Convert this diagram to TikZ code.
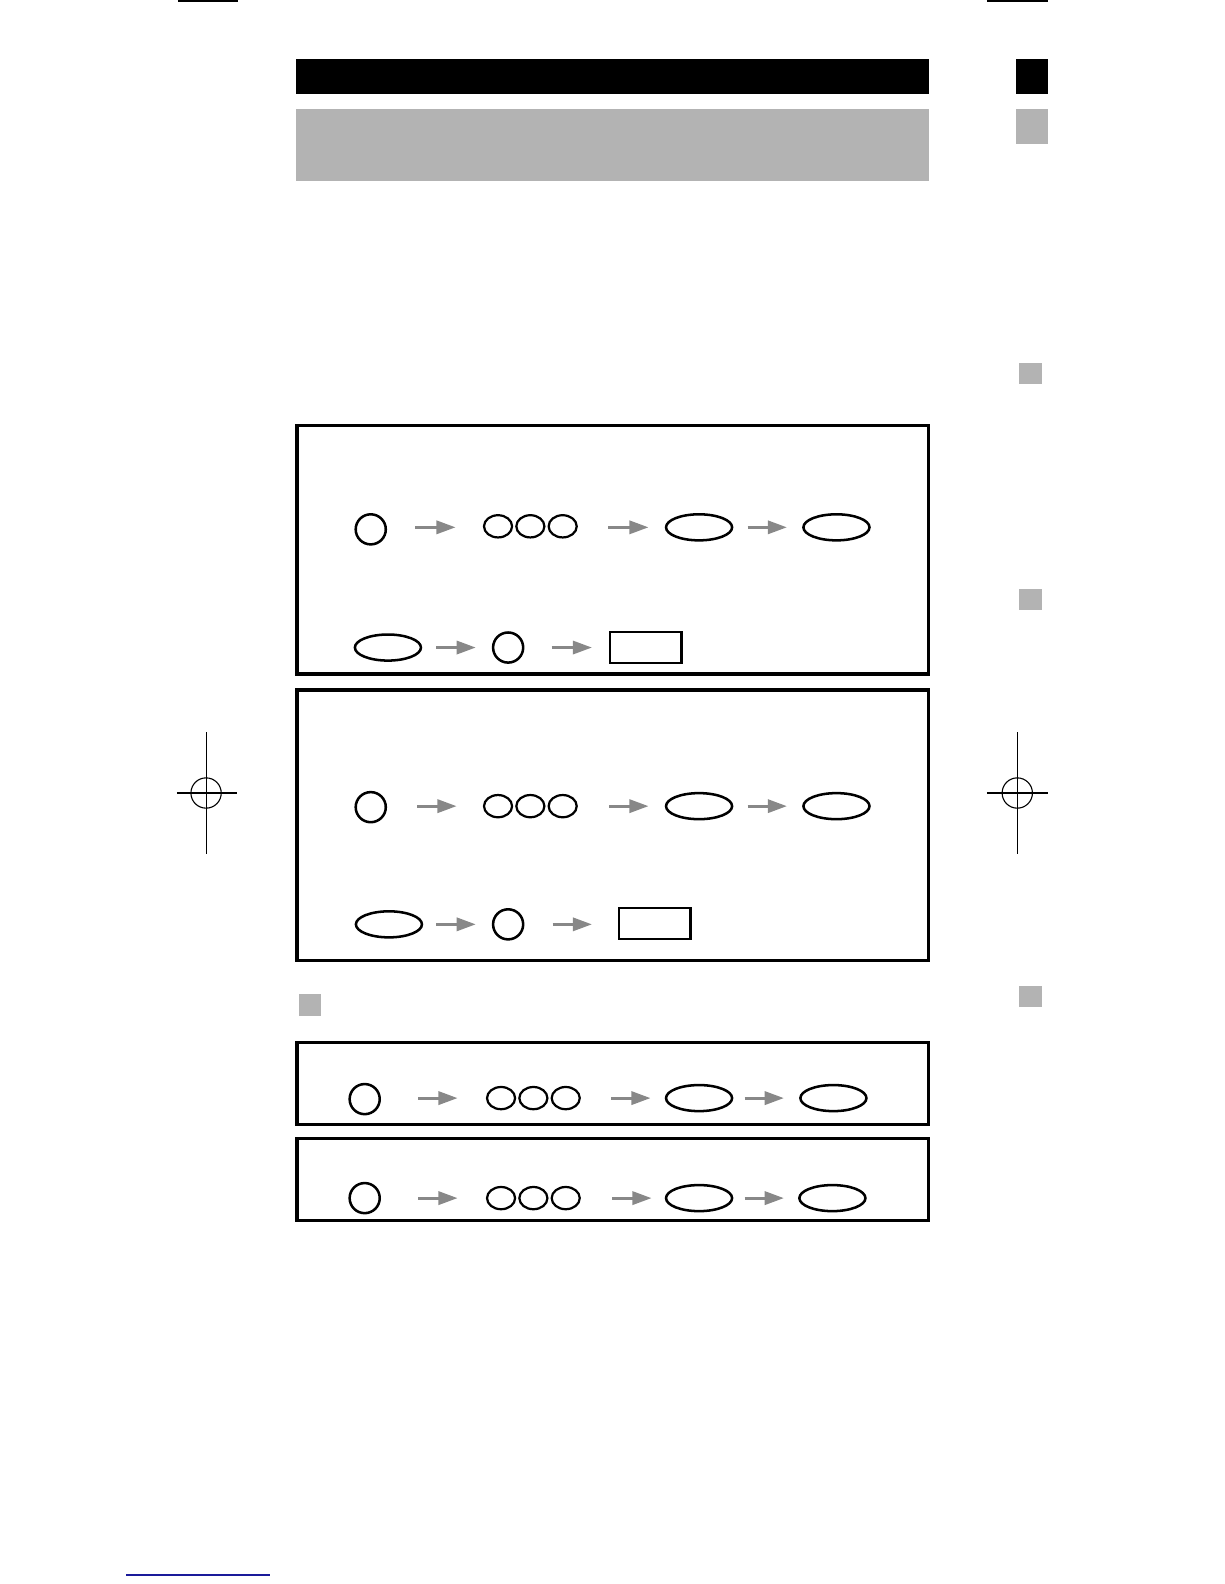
\documentclass[tikz,border=0pt]{standalone}
\usetikzlibrary{arrows.meta,shapes.geometric}
\definecolor{lgray}{HTML}{B3B3B3}
\definecolor{agray}{HTML}{888888}
\definecolor{dblue}{HTML}{1A1A9A}
\tikzset{
  frame/.style={draw=black,line width=1.7pt},
  btn/.style={draw=black,line width=1.25pt,circle,inner sep=0pt,minimum size=14.9pt},
  key/.style={draw=black,line width=1.1pt,ellipse,inner sep=0pt,minimum width=13.9pt,minimum height=11pt},
  oval/.style={draw=black,line width=1.25pt,ellipse,inner sep=0pt,minimum width=32.7pt,minimum height=12.9pt},
  disp/.style={draw=black,line width=1.1pt,rectangle,inner sep=0pt,minimum width=35.5pt,minimum height=15.3pt},
  garrow/.style={draw=agray,line width=1.5pt,-{Triangle[length=9.5pt,width=6.5pt]}},
  crop/.style={draw=black,line width=0.55pt},
  tab/.style={fill=lgray},
}
\begin{document}
\begin{tikzpicture}[x=0.5pt,y=-0.5pt]
\useasboundingbox (0,0) rectangle (1212,1568);
% crop marks top
\draw[crop,line width=1pt] (176,1.3) -- (236,1.3);
\draw[crop,line width=1pt] (977,1.3) -- (1037,1.3);
% header bars
\fill[black] (293,58) rectangle (920,93);
\fill[lgray] (293,108) rectangle (920,179);
\fill[black] (1006,58) rectangle (1037,93);
\fill[lgray] (1006,108) rectangle (1037,143);
% side tabs
\fill[tab] (1009,359) rectangle (1031,380);
\fill[tab] (1009,583) rectangle (1031,604);
\fill[tab] (1009,976) rectangle (1031,997);
\fill[tab] (296,984) rectangle (318,1006);
% crosshairs
\draw[crop] (204,725) -- (204,845);
\draw[crop] (175,785) -- (235,785);
\draw[crop] (204,785) circle[radius=15];
\draw[crop] (1007,725) -- (1007,845);
\draw[crop] (977,785) -- (1037,785);
\draw[crop] (1007,785) circle[radius=15];
% bottom blue line
\draw[dblue,line width=0.8pt] (125,1559) -- (267,1559);
% frames
\draw[frame] (294,421) rectangle (919,667);
\draw[frame] (294,683) rectangle (919,951);
\draw[frame] (294,1032) rectangle (919,1113);
\draw[frame] (294,1127) rectangle (919,1208);

% ---- Box 1 ----
\node[btn] (a1) at (367,524) {};
\coordinate (a1s) at (411,522); \coordinate (a1e) at (451,522);
\node[key] (a2) at (493,521) {};
\node[key] (a3) at (525,521) {};
\node[key] (a4) at (557,521) {};
\coordinate (a2s) at (602,522); \coordinate (a2e) at (642,522);
\node[oval] (a5) at (692,522) {};
\coordinate (a3s) at (740,522); \coordinate (a3e) at (779,522);
\node[oval] (a6) at (828,522) {};
\draw[garrow] (a1s) -- (a1e);
\draw[garrow] (a2s) -- (a2e);
\draw[garrow] (a3s) -- (a3e);
\node[oval] (b1) at (384,641) {};
\coordinate (b1s) at (432,641); \coordinate (b1e) at (471,641);
\node[btn] (b2) at (503,641) {};
\coordinate (b2s) at (546,641); \coordinate (b2e) at (586,641);
\node[disp] (b3) at (639,641) {};
\draw[garrow] (b1s) -- (b1e);
\draw[garrow] (b2s) -- (b2e);

% ---- Box 2 ----
\node[btn] (c1) at (367,799) {};
\coordinate (c1s) at (413,798); \coordinate (c1e) at (452,798);
\node[key] (c2) at (493,798) {};
\node[key] (c3) at (525,798) {};
\node[key] (c4) at (557,798) {};
\coordinate (c2s) at (603,798); \coordinate (c2e) at (642,798);
\node[oval] (c5) at (692,798) {};
\coordinate (c3s) at (740,798); \coordinate (c3e) at (779,798);
\node[oval] (c6) at (828,798) {};
\draw[garrow] (c1s) -- (c1e);
\draw[garrow] (c2s) -- (c2e);
\draw[garrow] (c3s) -- (c3e);
\node[oval] (d1) at (385,915) {};
\coordinate (d1s) at (432,915); \coordinate (d1e) at (471,915);
\node[btn] (d2) at (503,915) {};
\coordinate (d2s) at (547,915); \coordinate (d2e) at (586,915);
\node[disp] (d3) at (648,914) {};
\draw[garrow] (d1s) -- (d1e);
\draw[garrow] (d2s) -- (d2e);

% ---- Box 3 ----
\node[btn] (e1) at (361,1088) {};
\coordinate (e1s) at (414,1087); \coordinate (e1e) at (453,1087);
\node[key] (e2) at (496,1087) {};
\node[key] (e3) at (528,1087) {};
\node[key] (e4) at (560,1087) {};
\coordinate (e2s) at (605,1087); \coordinate (e2e) at (644,1087);
\node[oval] (e5) at (692,1087) {};
\coordinate (e3s) at (737,1087); \coordinate (e3e) at (776,1087);
\node[oval] (e6) at (825,1087) {};
\draw[garrow] (e1s) -- (e1e);
\draw[garrow] (e2s) -- (e2e);
\draw[garrow] (e3s) -- (e3e);

% ---- Box 4 ----
\node[btn] (f1) at (361,1186) {};
\coordinate (f1s) at (414,1186); \coordinate (f1e) at (453,1186);
\node[key] (f2) at (496,1186) {};
\node[key] (f3) at (528,1186) {};
\node[key] (f4) at (560,1186) {};
\coordinate (f2s) at (606,1186); \coordinate (f2e) at (645,1186);
\node[oval] (f5) at (692,1186) {};
\coordinate (f3s) at (737,1186); \coordinate (f3e) at (776,1186);
\node[oval] (f6) at (824,1186) {};
\draw[garrow] (f1s) -- (f1e);
\draw[garrow] (f2s) -- (f2e);
\draw[garrow] (f3s) -- (f3e);
\end{tikzpicture}
\end{document}
